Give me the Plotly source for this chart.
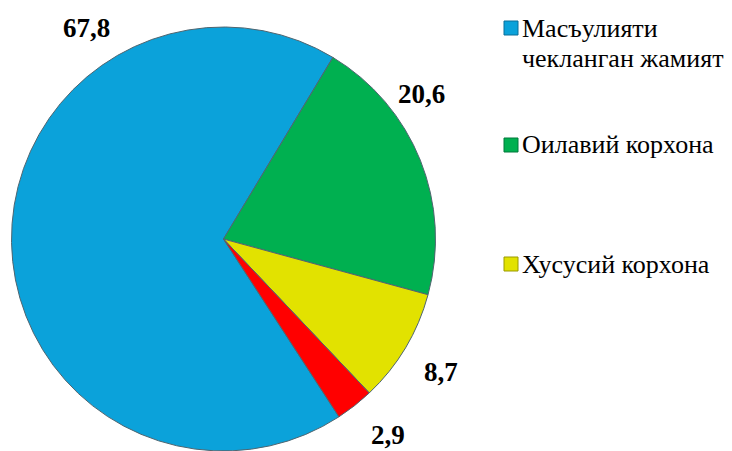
import plotly.graph_objects as go

# ---- data ----
categories = ["Масъулияти чекланган жамият", "Оилавий корхона", "Хусусий корхона", "Бошқа"]
values = [67.8, 20.6, 8.7, 2.9]
legend_labels = ["Масъулияти<br>чекланган жамият", "Оилавий корхона", "Хусусий корхона"]

colors = ["#0ba2da", "#00b050", "#e2e200", "#ff0000"]
edge_colors = ["#0a6f99", "#00783a", "#9a9a00", "#a80000"]

W, H = 732, 451
OFF = 8  # page body margin
SERIF = "Liberation Serif"


def px(x):
    return (x - OFF) / W


def py(y):
    return 1 - (y - OFF) / H


fig = go.Figure()
fig.add_trace(go.Pie(
    labels=categories,
    values=values,
    sort=False,
    direction="clockwise",
    rotation=147,
    marker=dict(colors=colors, line=dict(color="#4f6570", width=1)),
    textinfo="none",
    hoverinfo="label+value",
    showlegend=False,
    domain=dict(x=[px(11), px(436)], y=[py(451), py(27)]),
))

# value labels (placed outside the pie like the original)
label_pos = [(86, 28), (421, 94), (441, 372), (388, 435)]
annotations = []
for v, (lx, ly) in zip(values, label_pos):
    annotations.append(dict(
        x=px(lx), y=py(ly), xref="paper", yref="paper",
        text="<b>" + f"{v:.1f}".replace(".", ",") + "</b>",
        showarrow=False, xanchor="center", yanchor="middle",
        font=dict(family=SERIF, size=27, color="black"),
    ))

# custom legend (red slice has no legend entry)
legend_rows = [(28, 29), (145, 145), (264, 264)]
LINE_GAP = 30
shapes = []
for lab, col, ecol, (sy, ty) in zip(legend_labels, colors, edge_colors, legend_rows):
    shapes.append(dict(
        type="rect", xref="paper", yref="paper",
        x0=px(504), x1=px(518), y0=py(sy - 7), y1=py(sy + 7),
        fillcolor=col, line=dict(color=ecol, width=1),
    ))
    for k, line in enumerate(lab.split("<br>")):
        annotations.append(dict(
            x=px(520), y=py(ty + k * LINE_GAP), xref="paper", yref="paper",
            text=line, showarrow=False, xanchor="left", yanchor="middle", align="left",
            font=dict(family=SERIF, size=26, color="black"),
        ))

fig.update_layout(
    width=W, height=H,
    margin=dict(l=0, r=0, t=0, b=0),
    paper_bgcolor="white",
    plot_bgcolor="white",
    annotations=annotations,
    shapes=shapes,
    showlegend=False,
)

fig.write_html("out.html")
